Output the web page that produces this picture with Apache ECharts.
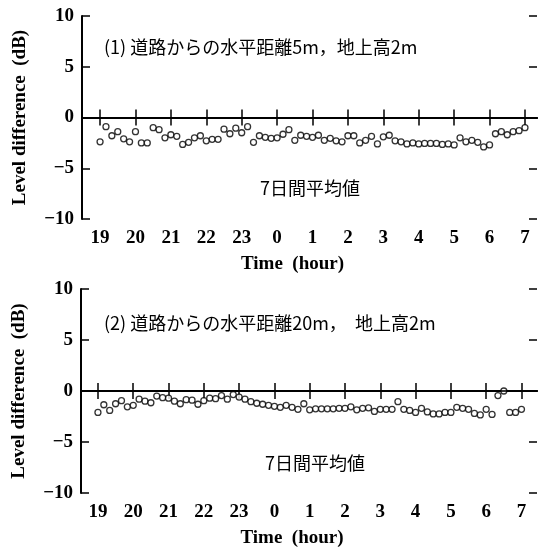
<!DOCTYPE html>
<html>
<head>
<meta charset="utf-8">
<script src="https://cdn.jsdelivr.net/npm/echarts@6.0.0/dist/echarts.min.js"></script>
<style>
  html, body { margin: 0; padding: 0; background: #fff; }
  #chart { width: 539px; height: 552px; }
</style>
</head>
<body>
<div id="chart"></div>
<script>
// 19:00 -> 7:00 next morning, plotted as hours 19..31
var hourTicks = [19, 20, 21, 22, 23, 24, 25, 26, 27, 28, 29, 30, 31];
var hourLabels = ['19', '20', '21', '22', '23', '0', '1', '2', '3', '4', '5', '6', '7'];
var startHour = 19;      // first reading at 19:00
var stepHour = 1 / 6;    // one reading every 10 minutes

// (1) 5m from road, 2m above ground
var diff5m = [
  -2.4, -0.9, -1.8, -1.4, -2.1, -2.4,
  -1.4, -2.5, -2.5, -1.0, -1.2, -2.0,
  -1.7, -1.85, -2.65, -2.45, -2.0, -1.8,
  -2.3, -2.15, -2.15, -1.15, -1.6, -1.05,
  -1.5, -0.9, -2.45, -1.8, -1.95, -2.05,
  -2.0, -1.65, -1.2, -2.25, -1.75, -1.85,
  -1.95, -1.75, -2.25, -2.05, -2.3, -2.4,
  -1.8, -1.8, -2.5, -2.25, -1.85, -2.6,
  -1.9, -1.75, -2.3, -2.4, -2.6, -2.5,
  -2.6, -2.55, -2.55, -2.55, -2.65, -2.6,
  -2.7, -2.0, -2.4, -2.25, -2.45, -2.9,
  -2.7, -1.6, -1.4, -1.7, -1.4, -1.3,
  -1.0
];

// (2) 20m from road, 2m above ground
var diff20m = [
  -2.1, -1.35, -1.9, -1.25, -0.95, -1.55,
  -1.4, -0.8, -1.0, -1.15, -0.5, -0.65,
  -0.7, -1.0, -1.25, -0.85, -0.9, -1.3,
  -0.95, -0.7, -0.75, -0.45, -0.8, -0.35,
  -0.6, -0.8, -1.05, -1.2, -1.3, -1.4,
  -1.5, -1.6, -1.4, -1.6, -1.8, -1.25,
  -1.85, -1.75, -1.75, -1.75, -1.75, -1.7,
  -1.7, -1.55, -1.85, -1.7, -1.65, -2.0,
  -1.8, -1.8, -1.8, -1.05, -1.8, -1.9,
  -2.1, -1.7, -2.05, -2.25, -2.25, -2.1,
  -2.1, -1.6, -1.7, -1.8, -2.2, -2.35,
  -1.8, -2.3, -0.45, 0.0, -2.1, -2.1,
  -1.8
];

var serif = 'Liberation Serif';
var cjk = 'Noto Sans CJK JP';

function toPoints(values) {
  return values.map(function (v, i) { return [startHour + i * stepHour, v]; });
}

function hourText(v) {
  var i = hourTicks.indexOf(Math.round(v));
  return i >= 0 ? hourLabels[i] : '';
}

function xAxes(gridIndex, min, max) {
  var line = { show: true, lineStyle: { color: '#000', width: 2 } };
  var tick = { show: true, inside: true, length: 8, customValues: hourTicks, lineStyle: { color: '#000', width: 1.5 } };
  return [{
    gridIndex: gridIndex, type: 'value', position: 'bottom', min: min, max: max,
    axisLine: line, axisTick: tick, splitLine: { show: false },
    axisLabel: {
      customValues: hourTicks, formatter: hourText, margin: 10,
      color: '#000', fontFamily: serif, fontWeight: 'bold', fontSize: 19
    },
    name: 'Time  (hour)', nameLocation: 'middle', nameGap: 36,
    // the caption sits a little left of the frame centre
    nameTextStyle: { color: '#000', fontFamily: serif, fontWeight: 'bold', fontSize: 19, padding: [0, 34, 0, 0] }
  }, {
    gridIndex: gridIndex, type: 'value', position: 'top', min: min, max: max,
    axisLine: line, axisTick: tick, splitLine: { show: false }, axisLabel: { show: false }
  }];
}

function yAxes(gridIndex) {
  var tick = { show: true, inside: true, length: 8, lineStyle: { color: '#000', width: 1.5 } };
  return [{
    gridIndex: gridIndex, type: 'value', position: 'left', min: -10, max: 10, interval: 5,
    axisLine: { show: true, lineStyle: { color: '#000', width: 2 } },
    axisTick: tick, splitLine: { show: false },
    axisLabel: {
      margin: 8, color: '#000', fontFamily: serif, fontWeight: 'bold', fontSize: 19,
      formatter: function (v) { return String(v).replace('-', '\u2212'); }
    },
    name: 'Level difference  (dB)', nameLocation: 'middle', nameRotate: 90, nameGap: 52,
    nameTextStyle: { color: '#000', fontFamily: serif, fontWeight: 'bold', fontSize: 19 }
  }, {
    gridIndex: gridIndex, type: 'value', position: 'right', min: -10, max: 10, interval: 5,
    axisLine: { show: false }, axisTick: tick, splitLine: { show: false }, axisLabel: { show: false }
  }];
}

function dotSeries(values, axisIndex) {
  return {
    type: 'scatter',
    xAxisIndex: axisIndex, yAxisIndex: axisIndex,
    data: toPoints(values),
    symbol: 'circle', symbolSize: 6,
    itemStyle: { color: '#fff', borderColor: '#000', borderWidth: 1.3 },
    silent: true,
    markLine: {
      silent: true, symbol: ['none', 'none'], label: { show: false },
      lineStyle: { color: '#000', width: 1.5, type: 'solid' },
      data: [{ yAxis: 0 }]
    }
  };
}

function label(text, x, y, align) {
  return {
    type: 'text', x: x, y: y, silent: true,
    style: { text: text, fill: '#000', font: '18px "' + cjk + '"', textAlign: align, textVerticalAlign: 'middle' }
  };
}

var chart = echarts.init(document.getElementById('chart'), null, { renderer: 'canvas' });
chart.setOption({
  animation: false,
  backgroundColor: '#fff',
  grid: [
    { left: 82, top: 16, width: 455, height: 203 },
    { left: 81, top: 289, width: 456, height: 204 }
  ],
  xAxis: xAxes(0, 18.49, 31.34).concat(xAxes(1, 18.52, 31.44)),
  yAxis: yAxes(0).concat(yAxes(1)),
  series: [
    dotSeries(diff5m, 0),
    dotSeries(diff20m, 2)
  ],
  graphic: [
    label('(1) 道路からの水平距離5m，地上高2m', 104, 47, 'left'),
    label('7日間平均値', 310, 188, 'center'),
    label('(2) 道路からの水平距離20m，  地上高2m', 104, 323, 'left'),
    label('7日間平均値', 315, 463, 'center')
  ]
});
</script>
</body>
</html>
